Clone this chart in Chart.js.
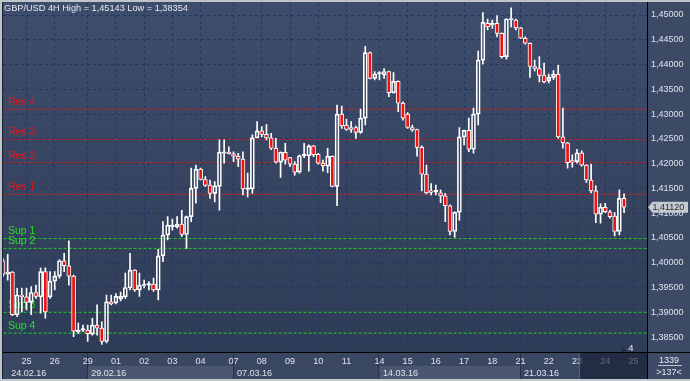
<!DOCTYPE html>
<html><head><meta charset="utf-8">
<script src="https://cdn.jsdelivr.net/npm/chart.js@4.4.0/dist/chart.umd.min.js"></script>
<style>html,body{margin:0;padding:0;background:#b9bdc5;}canvas{display:block;}</style>
</head><body>
<canvas id="c" width="690" height="381"></canvas>
<script>
const titleText = 'GBP/USD 4H High = 1,45143 Low = 1,38354';
const opens = [
1.4004,1.3977,1.3981,1.3895,1.3935,1.3931,1.3920,1.3940,1.3931,1.3982,
1.3931,1.3963,1.3973,1.4004,1.3994,1.3973,1.3861,1.3864,1.3864,1.3856,
1.3874,1.3868,1.3841,1.3921,1.3919,1.3927,1.3931,1.3949,1.3985,1.3945,
1.3954,1.3955,1.3957,1.3945,1.4014,1.4056,1.4073,1.4073,1.4078,1.4057,
1.4093,1.4150,1.4189,1.4168,1.4157,1.4140,1.4154,1.4221,1.4223,1.4220,
1.4215,1.4209,1.4148,1.4149,1.4252,1.4266,1.4259,1.4252,1.4231,1.4203,
1.4223,1.4212,1.4199,1.4183,1.4216,1.4216,1.4236,1.4219,1.4201,1.4195,
1.4215,1.4154,1.4300,1.4278,1.4273,1.4273,1.4263,1.4292,1.4424,1.4372,
1.4381,1.4379,1.4386,1.4343,1.4366,1.4322,1.4300,1.4273,1.4269,1.4233,
1.4179,1.4143,1.4143,1.4141,1.4135,1.4115,1.4063,1.4102,1.4254,1.4267,
1.4229,1.4300,1.4409,1.4483,1.4480,1.4483,1.4463,1.4416,1.4490,1.4490,
1.4474,1.4453,1.4443,1.4396,1.4392,1.4379,1.4367,1.4374,1.4381,1.4254,
1.4242,1.4204,1.4204,1.4222,1.4197,1.4167,1.4145,1.4098,1.4112,1.4103,
1.4094,1.4063,1.4130];
const highs = [
1.4008,1.4017,1.3982,1.3949,1.3949,1.3949,1.3952,1.3955,1.3989,1.3990,
1.3982,1.3982,1.4006,1.4019,1.4044,1.3975,1.3878,1.3874,1.3874,1.3888,
1.3915,1.3881,1.3935,1.3935,1.3938,1.3941,1.3979,1.4019,1.3986,1.3979,
1.3965,1.3962,1.3969,1.4027,1.4083,1.4093,1.4088,1.4093,1.4106,1.4094,
1.4191,1.4197,1.4191,1.4174,1.4167,1.4164,1.4248,1.4248,1.4234,1.4224,
1.4221,1.4224,1.4181,1.4258,1.4285,1.4275,1.4279,1.4261,1.4251,1.4224,
1.4241,1.4213,1.4204,1.4218,1.4241,1.4238,1.4237,1.4221,1.4207,1.4231,
1.4216,1.4318,1.4316,1.4290,1.4285,1.4276,1.4310,1.4437,1.4425,1.4386,
1.4386,1.4392,1.4387,1.4384,1.4367,1.4325,1.4303,1.4278,1.4270,1.4236,
1.4197,1.4160,1.4157,1.4147,1.4140,1.4117,1.4103,1.4273,1.4268,1.4292,
1.4312,1.4427,1.4505,1.4492,1.4490,1.4499,1.4464,1.4493,1.45143,1.4492,
1.4475,1.4456,1.4444,1.4409,1.4416,1.4403,1.4381,1.4388,1.4399,1.4312,
1.4243,1.4218,1.4229,1.4226,1.4198,1.4199,1.4155,1.4119,1.4120,1.4106,
1.4101,1.4147,1.4139];
const lows = [
1.3973,1.3965,1.3893,1.3891,1.3901,1.3905,1.3895,1.3928,1.3898,1.3888,
1.3928,1.3945,1.3969,1.3982,1.3955,1.3851,1.3857,1.3861,1.3841,1.3854,
1.3854,1.38354,1.3838,1.3915,1.3917,1.3923,1.3928,1.3945,1.3942,1.3932,
1.3949,1.3945,1.3942,1.3925,1.4002,1.4046,1.4066,1.4070,1.4053,1.4029,
1.4083,1.4120,1.4167,1.4154,1.4130,1.4123,1.4106,1.4201,1.4219,1.4204,
1.4194,1.4137,1.4133,1.4140,1.4252,1.4254,1.4248,1.4228,1.4201,1.4172,
1.4199,1.4194,1.4177,1.4181,1.4212,1.4185,1.4214,1.4199,1.4185,1.4182,
1.4153,1.4115,1.4271,1.4267,1.4263,1.4251,1.4261,1.4278,1.4371,1.4369,
1.4369,1.4372,1.4335,1.4342,1.4305,1.4288,1.4271,1.4265,1.4215,1.4145,
1.4139,1.4137,1.4137,1.4121,1.4083,1.4056,1.4051,1.4086,1.4238,1.4224,
1.4221,1.4278,1.4401,1.4470,1.4473,1.4456,1.4413,1.4411,1.4476,1.4470,
1.4452,1.4441,1.4374,1.4387,1.4365,1.4363,1.4363,1.4370,1.4251,1.4231,
1.4191,1.4193,1.4201,1.4195,1.4162,1.4141,1.4081,1.4080,1.4101,1.4090,
1.4054,1.4056,1.4101];
const closes = [
1.3977,1.3981,1.3895,1.3935,1.3931,1.3920,1.3940,1.3932,1.3982,1.3901,
1.3963,1.3973,1.4004,1.3994,1.3973,1.3862,1.3864,1.3865,1.3857,1.3874,
1.3868,1.3841,1.3921,1.3917,1.3932,1.3932,1.3950,1.3985,1.3945,1.3955,
1.3957,1.3956,1.3945,1.4014,1.4056,1.4076,1.4076,1.4078,1.4057,1.4093,
1.4150,1.4189,1.4168,1.4156,1.4140,1.4155,1.4223,1.4223,1.4220,1.4215,
1.4209,1.4149,1.4150,1.4252,1.4266,1.4259,1.4252,1.4231,1.4203,1.4223,
1.4207,1.4199,1.4183,1.4216,1.4217,1.4236,1.4218,1.4201,1.4196,1.4215,
1.4154,1.4300,1.4276,1.4269,1.4269,1.4263,1.4292,1.4424,1.4372,1.4381,
1.4382,1.4386,1.4343,1.4366,1.4322,1.4292,1.4273,1.4268,1.4233,1.4179,
1.4141,1.4142,1.4144,1.4135,1.4115,1.4063,1.4102,1.4254,1.4267,1.4229,
1.4300,1.4409,1.4485,1.4476,1.4483,1.4463,1.4416,1.4492,1.4492,1.4474,
1.4453,1.4443,1.4396,1.4392,1.4378,1.4365,1.4374,1.4381,1.4254,1.4242,
1.4202,1.4203,1.4222,1.4197,1.4167,1.4145,1.4098,1.4112,1.4103,1.4093,
1.4063,1.4130,1.4112];
const resNames = ['Res 1','Res 2','Res 3','Res 4'];
const resLevels = [1.4138, 1.4202, 1.4249, 1.4310];
const supNames = ['Sup 1','Sup 2','Sup 3','Sup 4'];
const supLevels = [1.4049, 1.4029, 1.3900, 1.3858];
const yTicks = [1.385,1.390,1.395,1.400,1.405,1.410,1.415,1.420,1.425,1.430,1.435,1.440,1.445,1.450];
const dayTickIdx = [5,11,18,24,30,36,42,49,55,61,67,73,80,86,92,98,104,110,116,122,128,134];
const dayLabels = ['25','26','29','01','02','03','04','07','08','09','10','11','14','15','16','17','18','21','22','23','24','25'];
const weekStartIdx = [1,18,49,80,110];
const weekLabels = ['24.02.16','29.02.16','07.03.16','14.03.16','21.03.16'];
const barCountText = '1339';
const visibleText = '>137<';
const lastPrice = closes[closes.length - 1];

const X_MIN = 0, X_MAX = 136.876;
const Y_MIN = 1.381887, Y_MAX = 1.452422;
const FONT = '"Liberation Sans", Arial, sans-serif';

const bodies = opens.map((o, i) => ({x: i, y: [o, closes[i]]}));
const upWicks = opens.map((o, i) => ({x: i, y: [Math.max(o, closes[i]), highs[i]]}));
const dnWicks = opens.map((o, i) => ({x: i, y: [lows[i], Math.min(o, closes[i])]}));
const bodyColors = opens.map((o, i) => closes[i] < o ? '#ee1111' : 'rgba(0,0,0,0)');

const levelDs = (v, color) => ({
  type: 'line', data: [{x: -2, y: v}, {x: X_MAX + 2, y: v}],
  borderColor: color, borderWidth: 1, borderDash: [3, 2], pointRadius: 0,
  fill: false, tension: 0, order: 10
});

const deco = {
  id: 'deco',
  beforeDraw(chart) {
    const {ctx, chartArea: a, scales: {x}} = chart;
    ctx.save();
    ctx.fillStyle = '#bfc3ca'; ctx.fillRect(0, 0, 690, 381);
    ctx.fillStyle = '#3c4a66'; ctx.fillRect(a.right, 2, 690 - a.right, 377);
    ctx.fillStyle = '#3a4763'; ctx.fillRect(2, a.bottom, a.right - 2, 379 - a.bottom);
    const g = ctx.createLinearGradient(0, a.top, 0, a.bottom);
    g.addColorStop(0, '#3e4d6b'); g.addColorStop(1, '#2f3c57');
    ctx.fillStyle = g; ctx.fillRect(2, 2, a.right - 2, a.bottom - 2);
    ctx.fillStyle = '#4b5772';
    [1, 3].forEach(k => {
      const x0 = x.getPixelForValue(weekStartIdx[k]);
      const x1 = x.getPixelForValue(weekStartIdx[k + 1]);
      ctx.fillRect(x0, 366, x1 - x0, 13);
    });
    ctx.restore();
  },
  beforeDatasetsDraw(chart) {
    const {ctx, scales: {y}} = chart;
    ctx.save();
    ctx.font = '10.5px ' + FONT; ctx.textAlign = 'left'; ctx.textBaseline = 'alphabetic';
    ctx.fillStyle = '#e8161a';
    resLevels.forEach((v, i) => ctx.fillText(resNames[i], 8, y.getPixelForValue(v) - 4));
    ctx.fillStyle = '#22e022';
    supLevels.forEach((v, i) => ctx.fillText(supNames[i], 8, y.getPixelForValue(v) - 4));
    ctx.restore();
  },
  afterDraw(chart) {
    const {ctx, chartArea: a, scales: {x, y}} = chart;
    ctx.save();
    ctx.fillStyle = '#27314a';
    for (let k = 1; k < weekStartIdx.length; k++) {
      ctx.fillRect(Math.round(x.getPixelForValue(weekStartIdx[k])) - 1, a.bottom, 1, 379 - a.bottom);
    }
    ctx.font = '9px ' + FONT; ctx.fillStyle = '#dfe3ea';
    ctx.textAlign = 'center'; ctx.textBaseline = 'alphabetic';
    dayTickIdx.forEach((v, i) => ctx.fillText(dayLabels[i], x.getPixelForValue(v), 364));
    ctx.textAlign = 'left';
    weekStartIdx.forEach((v, i) => ctx.fillText(weekLabels[i], x.getPixelForValue(v) + 3.5, 375.5));
    ctx.fillStyle = 'rgba(20,27,46,0.62)';
    ctx.fillRect(579, a.bottom, a.right - 579, 379 - a.bottom);
    ctx.fillStyle = '#56607a'; ctx.fillRect(579, a.bottom + 1, 1, 379 - a.bottom - 1);
    ctx.fillStyle = '#000';
    ctx.fillRect(a.right, 2, 1, 377);
    ctx.fillRect(2, Math.floor(a.bottom), 688, 1);
    ctx.fillStyle = '#1a2236'; ctx.fillRect(2, 2, 1, 377);
    ctx.font = '9.2px ' + FONT; ctx.fillStyle = '#e6e9ef'; ctx.textAlign = 'left';
    ctx.fillText(titleText, 4, 11);
    ctx.font = '9.5px ' + FONT; ctx.fillStyle = '#e6e9ef'; ctx.textAlign = 'center';
    ctx.fillText('4', 631, 350.5);
    ctx.fillStyle = '#222a3d';
    ctx.beginPath(); ctx.moveTo(620.5, 351.5); ctx.lineTo(626, 351.5); ctx.lineTo(623.5, 347.5); ctx.closePath(); ctx.fill();
    const py = y.getPixelForValue(lastPrice);
    ctx.fillStyle = '#c4c8cf';
    ctx.beginPath();
    ctx.moveTo(648, py); ctx.lineTo(652.5, py - 5.5); ctx.lineTo(688, py - 5.5);
    ctx.lineTo(688, py + 5.5); ctx.lineTo(652.5, py + 5.5); ctx.closePath(); ctx.fill();
    ctx.font = '9px ' + FONT; ctx.fillStyle = '#2b2b2b'; ctx.textAlign = 'left'; ctx.textBaseline = 'middle';
    ctx.fillText(lastPrice.toFixed(5).replace('.', ','), 652.5, py + 0.5);
    ctx.textBaseline = 'alphabetic'; ctx.textAlign = 'center'; ctx.fillStyle = '#e6e9ef';
    ctx.fillText(barCountText, 669, 362.7);
    ctx.fillStyle = '#c0c5ce'; ctx.fillRect(658, 365, 24, 1);
    ctx.fillStyle = '#e6e9ef';
    ctx.fillText(visibleText, 669, 374.7);
    ctx.fillStyle = '#c3c7ce'; ctx.fillRect(0, 379, 690, 2);
    ctx.restore();
  }
};

Chart.defaults.font.family = FONT;
new Chart(document.getElementById('c'), {
  type: 'bar',
  data: {
    datasets: [
      {data: bodies, backgroundColor: bodyColors, borderColor: '#ffffff', borderWidth: 1,
       borderSkipped: false, barThickness: 4, minBarLength: 1.5, grouped: false, order: 0},
      {data: upWicks, backgroundColor: '#ffffff', borderWidth: 0, barThickness: 1, grouped: false, order: 1},
      {data: dnWicks, backgroundColor: '#ffffff', borderWidth: 0, barThickness: 1, grouped: false, order: 1},
      ...resLevels.map(v => levelDs(v, '#d91c1c')),
      ...supLevels.map(v => levelDs(v, '#1ed21e'))
    ]
  },
  options: {
    responsive: false, animation: false, devicePixelRatio: 1, events: [],
    layout: {padding: {left: 3, top: 3, right: 0, bottom: 0}},
    plugins: {legend: {display: false}, tooltip: {enabled: false}, title: {display: false}},
    scales: {
      x: {
        type: 'linear', min: X_MIN, max: X_MAX, offset: false,
        afterBuildTicks: s => { s.ticks = dayTickIdx.map(v => ({value: v})); },
        afterFit: s => { s.height = 28.5; s.paddingLeft = 0; s.paddingRight = 0; },
        grid: {color: '#1f3766', lineWidth: 1, drawTicks: false, offset: false, borderDash: [3, 3]},
        border: {display: false, dash: [3, 3]},
        ticks: {display: false}
      },
      y: {
        type: 'linear', position: 'right', min: Y_MIN, max: Y_MAX,
        afterBuildTicks: s => { s.ticks = yTicks.map(v => ({value: v})); },
        afterFit: s => { s.width = 43; s.paddingTop = 0; s.paddingBottom = 0; },
        grid: {color: '#1f3766', lineWidth: 1, drawTicks: false, borderDash: [3, 3]},
        border: {display: false, dash: [3, 3]},
        ticks: {padding: 4, color: '#dfe3ea', autoSkip: false, font: {size: 9, family: FONT},
                callback: v => Number(v).toFixed(5).replace('.', ',')}
      }
    }
  },
  plugins: [deco]
});
</script>
</body></html>
